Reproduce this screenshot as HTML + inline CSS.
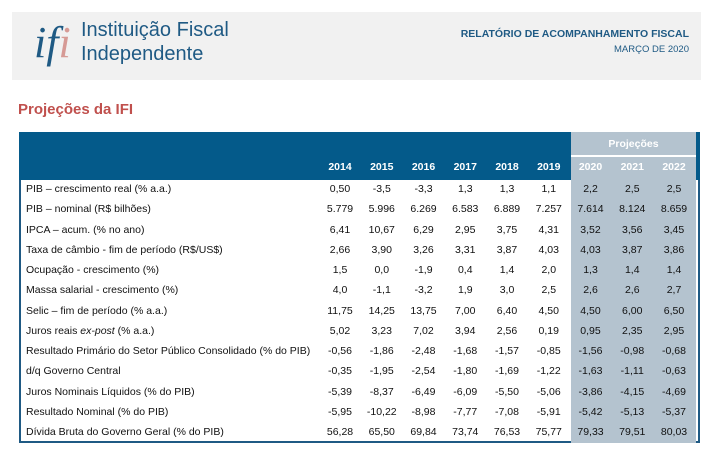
<!DOCTYPE html>
<html><head><meta charset="utf-8"><style>
body{margin:0;width:712px;height:453px;background:#fff;font-family:"Liberation Sans",sans-serif;position:relative;overflow:hidden}
.abs{position:absolute}
#hdr{left:12px;top:12px;width:689px;height:68px;background:#f1f1f1}
.cell{position:absolute;width:42px;text-align:center;font-size:10.5px;color:#111}
.lbl{position:absolute;left:26px;font-size:10.5px;color:#111;white-space:nowrap}
.yr{position:absolute;width:42px;text-align:center;font-size:10.5px;font-weight:bold;color:#fff}
</style></head><body>
<div id="hdr" class="abs">
  <div class="abs" style="left:22px;top:6px;font-family:'Liberation Serif',serif;font-style:italic;font-size:44px;line-height:50px;"><span style="color:#1f5a84">i</span><span style="color:#1f5a84">f</span><span style="color:#d69a95">i</span></div>
  <div class="abs" style="left:69px;top:6px;font-size:20px;line-height:24px;color:#1f5a84">Instituição Fiscal<br>Independente</div>
  <div class="abs" style="right:12px;top:16px;font-size:10.5px;font-weight:bold;color:#1f5a84">RELATÓRIO DE ACOMPANHAMENTO FISCAL</div>
  <div class="abs" style="right:12px;top:32px;font-size:9.5px;color:#1f5a84">MARÇO DE 2020</div>
</div>
<div class="abs" style="left:18px;top:101px;font-size:15px;font-weight:bold;color:#c0504d">Projeções da IFI</div>
<div class="abs" style="left:19px;top:132px;width:677px;height:309px;border:2px solid #1f5a84;border-top:none"></div>
<div class="abs" style="left:19px;top:132px;width:681px;height:48px;background:#045a8a"></div>
<div class="abs" style="left:571px;top:132px;width:125px;height:311px;background:#b4c3cf"></div>
<div class="abs" style="left:571px;top:155px;width:125px;height:2px;background:#fff"></div>
<div class="abs" style="left:571px;top:138px;width:125px;text-align:center;font-size:10.5px;font-weight:bold;color:#fff">Projeções</div>
<div id="tbl"></div>
<script>
const years=["2014","2015","2016","2017","2018","2019","2020","2021","2022"];
const labels=["PIB – crescimento real (% a.a.)","PIB – nominal (R$ bilhões)","IPCA – acum. (% no ano)","Taxa de câmbio - fim de período (R$/US$)","Ocupação - crescimento (%)","Massa salarial - crescimento (%)","Selic – fim de período (% a.a.)","Juros reais <i>ex-post</i> (% a.a.)","Resultado Primário do Setor Público Consolidado (% do PIB)","d/q Governo Central","Juros Nominais Líquidos (% do PIB)","Resultado Nominal (% do PIB)","Dívida Bruta do Governo Geral (% do PIB)"];
const values=[
["0,50","-3,5","-3,3","1,3","1,3","1,1","2,2","2,5","2,5"],
["5.779","5.996","6.269","6.583","6.889","7.257","7.614","8.124","8.659"],
["6,41","10,67","6,29","2,95","3,75","4,31","3,52","3,56","3,45"],
["2,66","3,90","3,26","3,31","3,87","4,03","4,03","3,87","3,86"],
["1,5","0,0","-1,9","0,4","1,4","2,0","1,3","1,4","1,4"],
["4,0","-1,1","-3,2","1,9","3,0","2,5","2,6","2,6","2,7"],
["11,75","14,25","13,75","7,00","6,40","4,50","4,50","6,00","6,50"],
["5,02","3,23","7,02","3,94","2,56","0,19","0,95","2,35","2,95"],
["-0,56","-1,86","-2,48","-1,68","-1,57","-0,85","-1,56","-0,98","-0,68"],
["-0,35","-1,95","-2,54","-1,80","-1,69","-1,22","-1,63","-1,11","-0,63"],
["-5,39","-8,37","-6,49","-6,09","-5,50","-5,06","-3,86","-4,15","-4,69"],
["-5,95","-10,22","-8,98","-7,77","-7,08","-5,91","-5,42","-5,13","-5,37"],
["56,28","65,50","69,84","73,74","76,53","75,77","79,33","79,51","80,03"]];
const t=document.getElementById('tbl');
const colX=i=>340+i*41.75;
const rowY=r=>190+r*20.25;
years.forEach((y,i)=>{const d=document.createElement('div');d.className='yr';


d.style.left=(colX(i)-21)+'px';d.style.top='161px';d.textContent=y;t.appendChild(d);});
labels.forEach((l,r)=>{const d=document.createElement('div');d.className='lbl';


d.style.top=(rowY(r)-7)+'px';d.innerHTML=l;t.appendChild(d);
values[r].forEach((v,i)=>{const c=document.createElement('div');c.className='cell';


c.style.left=(colX(i)-21)+'px';c.style.top=(rowY(r)-7)+'px';c.textContent=v;t.appendChild(c);});});
</script>
</body></html>
